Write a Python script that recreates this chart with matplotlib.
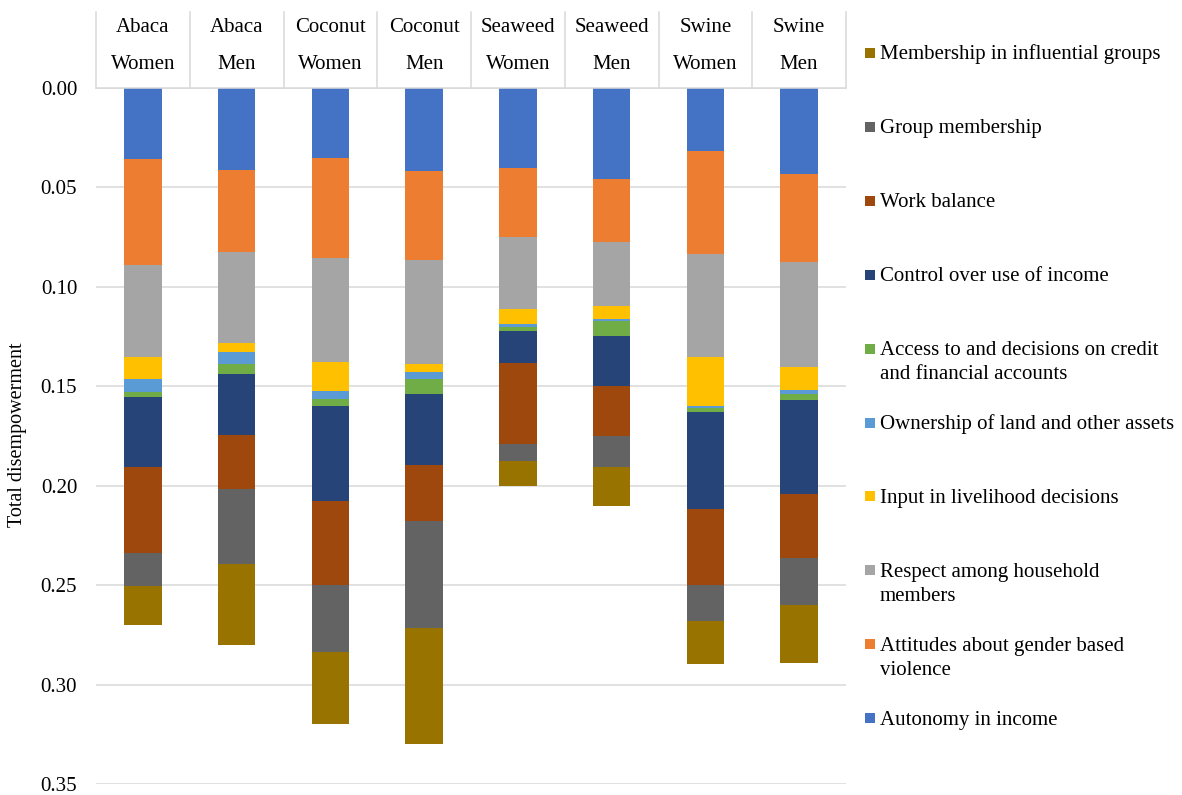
import matplotlib
matplotlib.use("Agg")
import matplotlib.pyplot as plt
from matplotlib.patches import Rectangle
from matplotlib.transforms import blended_transform_factory
import numpy as np

plt.rcParams["font.family"] = ["Liberation Serif", "DejaVu Serif"]

# ---------- data ----------
crops = ["Abaca", "Abaca", "Coconut", "Coconut", "Seaweed", "Seaweed", "Swine", "Swine"]
genders = ["Women", "Men", "Women", "Men", "Women", "Men", "Women", "Men"]

# stacked from the top (0.00) downwards
series_names = [
    "Autonomy in income",
    "Attitudes about gender based\nviolence",
    "Respect among household\nmembers",
    "Input in livelihood decisions",
    "Ownership of land and other assets",
    "Access to and decisions on credit\nand financial accounts",
    "Control over use of income",
    "Work balance",
    "Group membership",
    "Membership in influential groups",
]
series_colors = [
    "#4472C4", "#ED7D31", "#A5A5A5", "#FFC000", "#5B9BD5",
    "#70AD47", "#264478", "#9E480E", "#636363", "#997300",
]

autonomy   = [0.0356, 0.0411, 0.0353, 0.0416, 0.0403, 0.0457, 0.0316, 0.0433]
attitudes  = [0.0533, 0.0415, 0.0500, 0.0447, 0.0348, 0.0317, 0.0517, 0.0442]
respect    = [0.0466, 0.0454, 0.0527, 0.0527, 0.0361, 0.0321, 0.0522, 0.0530]
input_liv  = [0.0107, 0.0048, 0.0142, 0.0037, 0.0077, 0.0069, 0.0245, 0.0115]
ownership  = [0.0068, 0.0059, 0.0042, 0.0038, 0.0012, 0.0010, 0.0007, 0.0017]
credit     = [0.0025, 0.0051, 0.0033, 0.0072, 0.0020, 0.0074, 0.0022, 0.0032]
control    = [0.0352, 0.0308, 0.0480, 0.0361, 0.0160, 0.0249, 0.0490, 0.0475]
work       = [0.0431, 0.0273, 0.0423, 0.0281, 0.0409, 0.0251, 0.0378, 0.0321]
group      = [0.0166, 0.0376, 0.0337, 0.0539, 0.0085, 0.0160, 0.0181, 0.0236]
influence  = [0.0194, 0.0405, 0.0363, 0.0582, 0.0124, 0.0193, 0.0221, 0.0291]

series_values = [autonomy, attitudes, respect, input_liv, ownership,
                 credit, control, work, group, influence]

# ---------- figure ----------
W, H = 1182, 795
fig = plt.figure(figsize=(W / 100, H / 100), dpi=100)
ax_l, ax_r, ax_t, ax_b = 96, 846, 88, 784
ax = fig.add_axes([ax_l / W, 1 - ax_b / H, (ax_r - ax_l) / W, (ax_b - ax_t) / H])

x = np.arange(len(crops))
bottom = np.zeros(len(crops))
for vals, color in zip(series_values, series_colors):
    vals = np.asarray(vals)
    ax.bar(x, vals, bottom=bottom, width=0.4, color=color, linewidth=0, zorder=2)
    bottom += vals

ax.set_xlim(-0.5, len(crops) - 0.5)
ax.set_ylim(0.35, 0)
ticks = np.arange(0, 0.351, 0.05)
ax.set_yticks(ticks)
ax.set_yticklabels([f"{v:.2f}" for v in ticks], fontsize=15)
ax.tick_params(axis="y", length=0, pad=13.5)
ax.set_xticks([])
ax.grid(axis="y", color="#D9D9D9", linewidth=1.1, zorder=0)
ax.set_axisbelow(True)
for s in ("left", "right", "bottom"):
    ax.spines[s].set_visible(False)
ax.spines["top"].set_color("#D9D9D9")
ax.spines["top"].set_linewidth(1.1)

# category header boxes above the plot
trans = blended_transform_factory(ax.transData, ax.transAxes)
span = ax_b - ax_t
box_top = 1 + (ax_t - 12) / span
for b in np.arange(-0.5, len(crops), 1.0):
    ax.plot([b, b], [1, box_top], color="#D9D9D9", linewidth=1.1,
            transform=trans, clip_on=False)
y1 = 1 + (ax_t - 28) / span
y2 = 1 + (ax_t - 65) / span
for i, (c, g) in enumerate(zip(crops, genders)):
    ax.text(i, y1, c, transform=trans, ha="center", va="center", fontsize=15)
    ax.text(i, y2, g, transform=trans, ha="center", va="center", fontsize=15)

fig.text(18 / W, 1 - 435 / H, "Total disempowerment", rotation=90,
         ha="center", va="center", fontsize=14.5)

# legend (reverse order, fixed pitch like the original)
for k, idx in enumerate(range(len(series_names) - 1, -1, -1)):
    yc = 53 + k * 73.9
    fig.add_artist(Rectangle((865 / W, 1 - (yc + 5) / H), 10 / W, 10 / H,
                             transform=fig.transFigure,
                             facecolor=series_colors[idx], edgecolor="none"))
    for j, line in enumerate(series_names[idx].split("\n")):
        fig.text(880 / W, 1 - (yc + 6.5 + j * 24) / H, line,
                 ha="left", va="baseline", fontsize=15)

fig.savefig("out.png", dpi=100)
